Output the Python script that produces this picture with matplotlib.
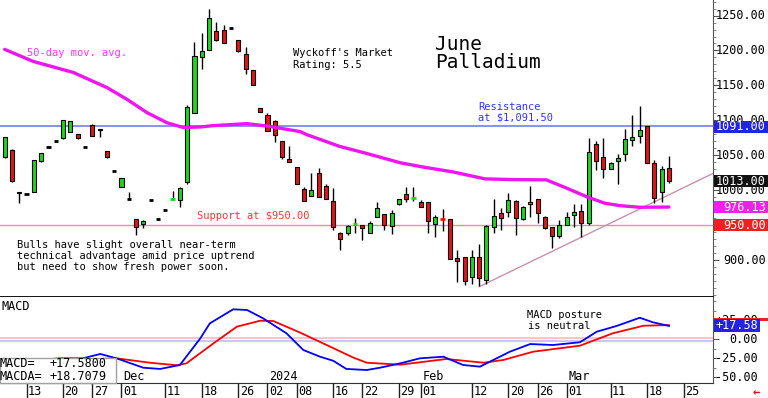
import matplotlib
matplotlib.use('Agg')
import matplotlib.pyplot as plt
from matplotlib.patches import Rectangle
from matplotlib.transforms import blended_transform_factory
from matplotlib.ticker import MultipleLocator
import numpy as np

plt.rcParams['font.family'] = ['DejaVu Sans Mono', 'DejaVu Sans']

# ---------------- data ----------------
opens = [1047.6, 1058.0, 998.0, 994.5, 998.2, 1041.3, 1061.4, 1070.5, 1074.8, 1083.5,
         1080.6, 1061.4, 1093.9, 1088.0, 1055.6, 1028.3, 1005.4, 987.7, 959.0, 951.9,
         986.3, 959.0, 972.0, 987.8, 986.3, 1012.6, 1110.7, 1191.0, 1200.5, 1227.8,
         1228.8, 1232.1, 1215.0, 1194.4, 1171.8, 1117.9, 1107.3, 1098.7, 1070.0, 1044.7,
         1033.2, 1001.7, 992.5, 1024.6, 1006.4, 985.3, 939.4, 938.5, 951.0, 950.0,
         939.4, 962.3, 966.2, 949.0, 980.1, 994.5, 988.3, 983.9, 983.0, 951.4,
         959.5, 958.6, 902.6, 904.0, 876.2, 905.0, 871.5, 948.0, 967.2, 969.5,
         984.9, 958.6, 980.6, 987.3, 962.3, 947.1, 934.6, 950.4, 964.8, 971.0,
         953.7, 1066.7, 1047.6, 1030.4, 1041.3, 1052.4, 1072.4, 1077.1, 1091.5, 1039.0,
         998.2, 1031.8]
closes = [1076.3, 1013.6, 996.0, 994.5, 1043.7, 1053.3, 1061.4, 1070.5, 1100.1, 1098.7,
          1074.8, 1061.4, 1078.1, 1086.0, 1048.4, 1028.3, 1017.4, 987.7, 948.0, 956.6,
          986.3, 959.0, 972.0, 988.6, 1004.0, 1119.3, 1191.9, 1199.0, 1247.0, 1214.9,
          1211.2, 1232.1, 1199.0, 1173.0, 1151.3, 1112.2, 1085.3, 1079.6, 1047.0, 1040.8,
          1008.8, 985.3, 1000.6, 990.2, 988.2, 948.0, 929.9, 949.0, 951.8, 946.6,
          953.7, 974.4, 950.4, 967.2, 987.3, 987.3, 989.1, 975.8, 956.6, 961.5,
          958.5, 902.1, 898.8, 870.0, 905.0, 874.0, 949.0, 963.3, 960.0, 986.3,
          960.0, 976.7, 983.9, 967.2, 945.7, 934.6, 950.4, 962.3, 969.5, 952.9,
          1054.2, 1041.3, 1030.4, 1039.0, 1046.1, 1072.9, 1076.3, 1086.8, 1039.0, 988.7,
          1030.4, 1013.0]
highs = [1077.0, 1059.0, 998.0, 995.0, 1044.0, 1054.0, 1061.9, 1071.0, 1101.0, 1099.5,
         1081.0, 1061.9, 1094.5, 1088.0, 1056.0, 1028.8, 1018.0, 997.4, 959.5, 957.0,
         986.8, 959.5, 972.5, 999.7, 1004.5, 1122.6, 1212.0, 1225.5, 1260.0, 1240.7,
         1237.0, 1232.6, 1215.5, 1205.4, 1172.0, 1118.0, 1110.7, 1100.0, 1070.5, 1062.8,
         1033.5, 1005.4, 1024.6, 1031.8, 1009.0, 1003.0, 940.0, 951.0, 961.0, 950.5,
         956.0, 983.0, 966.5, 972.0, 988.0, 1004.5, 1004.5, 986.0, 983.5, 964.8,
         973.0, 959.0, 914.6, 904.5, 914.6, 923.2, 950.0, 987.3, 974.4, 996.0,
         985.5, 977.5, 1006.4, 987.8, 963.0, 947.5, 957.6, 969.5, 980.6, 980.6,
         1074.8, 1070.0, 1074.8, 1040.0, 1052.3, 1087.6, 1108.3, 1120.2, 1092.0, 1043.7,
         1035.1, 1049.4]
lows = [1046.0, 1012.0, 982.0, 994.0, 997.0, 1040.0, 1060.9, 1070.0, 1074.0, 1083.0,
        1074.0, 1060.9, 1077.5, 1077.0, 1046.0, 1027.8, 1005.0, 987.5, 936.0, 945.7,
        985.8, 958.5, 971.5, 987.5, 976.7, 1009.3, 1110.0, 1172.9, 1200.0, 1213.0,
        1210.5, 1231.6, 1198.5, 1165.7, 1151.0, 1112.0, 1084.3, 1068.5, 1044.7, 1040.0,
        1008.5, 985.0, 992.0, 990.0, 988.0, 943.3, 914.6, 936.0, 939.4, 929.0,
        939.0, 962.0, 943.0, 937.5, 979.5, 983.9, 985.3, 975.5, 938.5, 933.0,
        942.0, 901.5, 869.0, 865.3, 866.8, 863.0, 866.0, 939.4, 943.3, 962.3,
        936.0, 958.0, 962.3, 952.9, 945.0, 917.0, 931.3, 950.0, 948.0, 933.6,
        950.4, 1029.4, 1017.4, 1030.0, 1009.3, 1041.3, 1062.8, 1067.7, 1038.5, 982.4,
        983.9, 1011.1]

# 50-day moving average (sampled along trading-day index)
ma_x = [0, 3.9, 9.4, 14, 16.8, 19.5, 22.2, 24.4, 26.8, 28.5, 33.2, 36.3, 40.5, 41.4,
        45.9, 49.4, 54.2, 57.5, 61.4, 65.8, 69.6, 74.2, 77, 79.7, 82.2, 84.3, 87, 91]
ma_v = [1201.6, 1184.4, 1168.6, 1147.0, 1129.8, 1111.1, 1096.8, 1090.0, 1090.6, 1092.5,
        1095.4, 1091.5, 1083.9, 1079.6, 1062.8, 1053.3, 1039.4, 1033.0, 1026.4, 1016.4,
        1015.4, 1015.0, 1003.1, 991.0, 981.6, 978.1, 975.8, 976.13]

# MACD (blue) and MACD average (red)
macd_x = [0, 4, 7.6, 10.7, 13.1, 15.3, 19, 21.3, 24, 26.8, 28.1, 31.3, 33.2, 35.4, 38.6,
          40.9, 43.2, 45, 46.8, 49.6, 51.4, 54.2, 56.9, 60.1, 62.8, 65.1, 69.2, 72,
          75.1, 78.8, 81.1, 83.8, 87, 88.8, 91]
macd_v = [-30, -28, -25, -25, -19.3, -25, -37.4, -39, -33.8, 1.3, 21, 39.5, 38.6, 27.6,
          7.9, -14, -22.9, -28.2, -39, -40.4, -37.4, -31.6, -25, -22.9, -33.8, -36,
          -16.3, -6.2, -7.5, -3.9, 10, 17.5, 28.4, 22.4, 17.58]
sig_x = [0, 5, 10, 15.3, 19.9, 23.6, 24.9, 28.6, 31.8, 35, 36.8, 40.5, 44.1, 47.8, 49.6,
         54.2, 60.5, 65.6, 68.3, 72.4, 78.8, 83.3, 87.5, 91]
sig_v = [-30, -29, -27, -25, -30.8, -34.2, -31.6, -5.3, 16.6, 24.5, 24.1, 8.7, -7.5,
         -24.2, -30.8, -33.4, -25.9, -30.8, -27.2, -16.3, -8.4, 7.9, 17.9, 18.71]

trend_x = [65, 97.07]
trend_y = [862.2, 1024.4]

resistance = 1091.5
support = 950.0
last_close = 1013.0
ma_last = 976.13
macd_last = 17.58
macda_last = 18.7079

price_ticks = [900, 950, 1000, 1050, 1100, 1150, 1200, 1250]
macd_ticks = [25, 0, -25, -50]
macd_tick_labels = ['+25.00', '0.00', '-25.00', '-50.00']

date_tick_idx = [3, 8, 12, 16, 22, 27, 32, 36, 40, 45, 49, 54, 57, 64, 69, 73, 77, 83, 88, 93]
date_tick_labels = ['13', '20', '27', '01', '11', '18', '26', '02', '08', '16', '22', '29',
                    '01', '12', '20', '26', '01', '11', '18', '25']
month_idx = [16, 36, 57, 77]
month_labels = ['Dec', '2024', 'Feb', 'Mar']

# ---------------- layout ----------------
W, H = 768, 398
fig = plt.figure(figsize=(W / 100, H / 100), dpi=100)
fig.patch.set_facecolor('white')

XL = (-0.644, 97.03)
AXW = 713
SEP = 297      # pixel row of the separator between panels
MB = 383       # bottom of MACD panel
ax = fig.add_axes([0, (H - SEP) / H, AXW / W, SEP / H])
axm = fig.add_axes([0, (H - MB) / H, AXW / W, (MB - SEP) / H])
axd = fig.add_axes([0, 0, AXW / W, (H - MB) / H])

PY = (847.5, 1272.2)
MY = (-57.5, 55.7)

GREEN = '#19d919'
RED = '#e61414'

# ---------------- main price panel ----------------
ax.set_xlim(*XL)
ax.set_ylim(*PY)
x = np.arange(len(opens))
o = np.array(opens); c = np.array(closes); hi = np.array(highs); lo = np.array(lows)

rng = hi - lo
wmask = rng > 1.5
ax.vlines(x[wmask], lo[wmask], hi[wmask], color='black', lw=1, zorder=3)
body = np.abs(c - o) >= 1.5
cols = np.where(c > o, GREEN, RED)
ax.bar(x[body], (c - o)[body], bottom=o[body], width=0.55, color=cols[body],
       edgecolor='black', lw=0.8, zorder=4)
for i in x[~body]:
    col = 'black' if c[i] == o[i] else (GREEN if c[i] > o[i] else RED)
    ax.hlines((o[i] + c[i]) / 2, i - 0.3, i + 0.3, color=col, lw=2, zorder=4)

ax.axhline(resistance, color='#8c8cff', lw=1.4, zorder=2)
ax.axhline(support, color='#ff8a8a', lw=1.0, zorder=2)
ax.plot(ma_x, ma_v, color='#f014f0', lw=2.4, zorder=5, solid_capstyle='round')
ax.plot(trend_x, trend_y, color='#c890b0', lw=1.0, zorder=2, clip_on=False)

for s in ['top', 'left']:
    ax.spines[s].set_visible(False)
ax.spines['right'].set_color('#555555')
ax.spines['bottom'].set_color('black')
ax.spines['bottom'].set_linewidth(1.3)
ax.set_xticks([])
ax.yaxis.set_ticks_position('right')
ax.set_yticks(price_ticks)
ax.yaxis.set_minor_locator(MultipleLocator(10))
ax.tick_params(axis='y', which='major', length=4, color='#555555', labelright=False)
ax.tick_params(axis='y', which='minor', length=2, color='#777777')

tr = blended_transform_factory(ax.transAxes, ax.transData)
for v in price_ticks:
    ax.text(766 / AXW, v, f'{v:.2f}', transform=tr, ha='right', va='center',
            size=8.5, color='black', clip_on=False, zorder=6)


def boxlabel(a, ylim, v, s, fc, x0, x1, xr, hpx=12, z=10, dpx=0.0):
    ppu = a.bbox.height / (ylim[1] - ylim[0])
    t = blended_transform_factory(a.transAxes, a.transData)
    yc = v + dpx / ppu
    a.add_patch(Rectangle((x0 / AXW, yc - hpx / 2 / ppu), (x1 - x0) / AXW, hpx / ppu,
                          transform=t, fc=fc, ec='none', clip_on=False, zorder=z))
    if s:
        a.text(xr / AXW, yc, s, transform=t, ha='right', va='center', color='white',
               size=8.5, clip_on=False, zorder=z + 1)


boxlabel(ax, PY, resistance - 0.5, f'{resistance - 0.5:.2f}', '#2323e6', 714, 768, 766)
boxlabel(ax, PY, last_close, f'{last_close:.2f}', '#111111', 714, 768, 766)
boxlabel(ax, PY, ma_last, f'{ma_last:.2f}', '#f020f0', 714, 768, 766)
boxlabel(ax, PY, support, f'{support:.2f}', '#f02020', 714, 768, 766)

# ---------------- MACD panel ----------------
axm.set_xlim(*XL)
axm.set_ylim(*MY)
axm.axhline(2.1, color='#ffc4c4', lw=1.5, zorder=1)
axm.axhline(-2.2, color='#c8c8ff', lw=1.5, zorder=1)
axm.plot(sig_x, sig_v, color='#ff0000', lw=1.3, zorder=3)
axm.plot(macd_x, macd_v, color='#0000ff', lw=1.3, zorder=4)
for s in ['top', 'left']:
    axm.spines[s].set_visible(False)
axm.spines['right'].set_color('#555555')
axm.spines['bottom'].set_color('#333333')
axm.set_xticks([])
axm.yaxis.set_ticks_position('right')
axm.set_yticks(macd_ticks)
axm.yaxis.set_minor_locator(MultipleLocator(12.5))
axm.tick_params(axis='y', which='major', length=4, color='#555555', labelright=False)
axm.tick_params(axis='y', which='minor', length=2, color='#777777')
trm = blended_transform_factory(axm.transAxes, axm.transData)
for v, s in zip(macd_ticks, macd_tick_labels):
    axm.text(758 / AXW, v, s, transform=trm, ha='right', va='center', size=8.5,
             clip_on=False, zorder=6)
# MACDA marker: thin red strip peeking out above the MACD box
boxlabel(axm, MY, macd_last, '', '#f02020', 714, 768, 766, hpx=3, dpx=6.5)
boxlabel(axm, MY, macd_last, f'+{macd_last:.2f}', '#2323e6', 714, 760, 758, hpx=13, z=12)

trx = blended_transform_factory(axm.transData, axm.transAxes)
for i, s in zip(month_idx, month_labels):
    axm.text(i + 0.2, 0.075, s, transform=trx, ha='left', va='center', size=8.5, zorder=6)

# ---------------- date strip ----------------
axd.set_xlim(*XL)
axd.set_ylim(0, 1)
axd.axis('off')
axd.vlines(date_tick_idx, 0, 1, color='#222222', lw=1)
for i, s in zip(date_tick_idx, date_tick_labels):
    axd.text(i + 0.2, 0.45, s, ha='left', va='center', size=8.5)


# ---------------- annotations ----------------
def ftext(px, py, s, **kw):
    kw.setdefault('size', 7.5)
    kw.setdefault('va', 'center')
    kw.setdefault('ha', 'left')
    kw.setdefault('zorder', 6)
    fig.text(px / W, 1 - py / H, s, **kw)


ftext(27, 53, '50-day mov. avg.', color='#ff33ff')
ftext(293, 53, "Wyckoff's Market")
ftext(293, 65, 'Rating: 5.5')
ftext(435, 44, 'June', size=14)
ftext(435, 62, 'Palladium', size=14)
ftext(478, 107, 'Resistance', color='#3333ff')
ftext(478, 118, 'at $1,091.50', color='#3333ff')
ftext(197, 216, 'Support at $950.00', color='#ff3333')
ftext(17, 245, 'Bulls have slight overall near-term')
ftext(17, 256, 'technical advantage amid price uptrend')
ftext(17, 267, 'but need to show fresh power soon.')
ftext(527, 315, 'MACD posture')
ftext(528, 326, 'is neutral')
ftext(1, 306, 'MACD', size=8.5)

fig.add_artist(Rectangle((0, 1 - 383 / H), 116 / W, 25 / H, transform=fig.transFigure,
                         fc='white', ec='#a0a0a0', lw=1, zorder=5))
ftext(0, 363.5, 'MACD=', size=8.5)
ftext(50, 363.5, f'+{macd_last:.4f}', size=8.5)
ftext(0, 376.5, 'MACDA=', size=8.5)
ftext(50, 376.5, f'+{macda_last:.4f}', size=8.5)
ftext(753, 393, '\u2190', size=9, color='#e61414', fontweight='bold')

fig.savefig('out.png', dpi=100)
